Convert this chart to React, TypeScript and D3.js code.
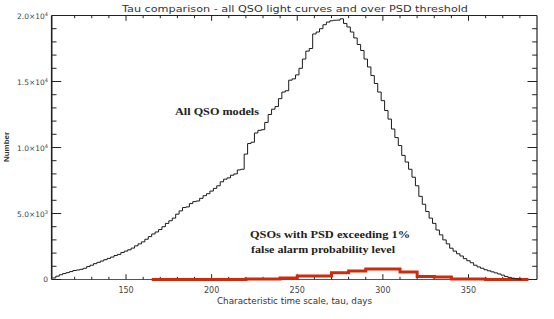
import React from "react";
import * as d3 from "d3";

// ---- data ----
const allBinStart = 107;
const allBinWidth = 2;
// counts per 2-day bin, bin centres 108 ... 380
const allCounts = [
  120, 250, 360, 450, 520, 600, 680, 720, 770, 850,
  980, 1080, 1200, 1300, 1400, 1500, 1600, 1700, 1820, 1900,
  2050, 2150, 2250, 2380, 2550, 2700, 2850, 3050, 3250, 3450,
  3600, 3780, 4000, 4250, 4450, 4650, 4950, 5200, 5450, 5500,
  5750, 5900, 5950, 6150, 6350, 6500, 6700, 6900, 7100, 7400,
  7600, 7700, 7900, 8000, 8300, 8350, 9500, 10300, 10400, 11100,
  11300, 11350, 11900, 12500, 12900, 13100, 13700, 14200, 14300, 15100,
  15200, 15500, 16000, 16700, 17300, 17500, 18600, 18750, 19000, 19300,
  19500, 19600, 19640, 19650, 19750, 19400, 19130, 18750, 18300, 17800,
  17350, 16700, 16100, 15450, 14850, 14200, 13550, 12800, 12150, 11400,
  10750, 10150, 9400, 8900, 8350, 7750, 7100, 6300, 5700, 5150,
  4650, 4250, 3750, 3380, 3000, 2700, 2370, 2150, 1950, 1780,
  1580, 1420, 1270, 1080, 950, 850, 740, 660, 580, 500,
  420, 330, 230, 160, 100, 60, 30,
];

const psdEdges = [165, 170, 180, 190, 200, 210, 220, 230, 240, 250, 260, 270, 280, 290, 300, 310, 320, 330, 340, 350, 360, 370, 380, 385];
const psdCounts = [0, 0, 0, 0, 0, 0, 40, 40, 110, 260, 260, 510, 650, 790, 800, 560, 230, 180, 45, 45, 0, 0, 0];

const xMajorTicks = [150, 200, 250, 300, 350];
const xMinorTicks = [120, 130, 140, 160, 170, 180, 190, 210, 220, 230, 240, 260, 270, 280, 290, 310, 320, 330, 340, 360, 370, 380];
const yMajorTicks = [0, 5000, 10000, 15000, 20000];
const yTickMantissa = ["0", "5.0×10", "1.0×10", "1.5×10", "2.0×10"];
const yTickExponent = ["", "3", "4", "4", "4"];
const yMinorTicks = [1000, 2000, 3000, 4000, 6000, 7000, 8000, 9000, 11000, 12000, 13000, 14000, 16000, 17000, 18000, 19000];

const titleText = "Tau comparison - all QSO light curves and over PSD threshold";
const xLabel = "Characteristic time scale, tau, days";
const yLabel = "Number";

export default function App() {
  const W = 554, H = 319;
  const L = 51.7, R = 537, T = 15.5, B = 279.5;
  const x = d3.scaleLinear().domain([106.6, 390]).range([L, R]);
  const y = d3.scaleLinear().domain([0, 20000]).range([B, T]);

  const allPts: [number, number][] = allCounts.map((v, i) => [allBinStart + i * allBinWidth, v]);
  allPts.push([allBinStart + allCounts.length * allBinWidth, allCounts[allCounts.length - 1]]);
  const psdPts: [number, number][] = psdCounts.map((v, i) => [psdEdges[i], v]);
  psdPts.push([psdEdges[psdEdges.length - 1], psdCounts[psdCounts.length - 1]]);

  const line = d3
    .line<[number, number]>()
    .x((d) => x(d[0]))
    .y((d) => y(d[1]))
    .curve(d3.curveStepAfter);

  const tickFont = "'DejaVu Sans', sans-serif";
  const axisColor = "#222";
  const xMajLen = 5.3, xMinLen = 2.7, yMajLen = 9.5, yMinLen = 4.8;

  return (
    <svg width={W} height={H} style={{ position: "absolute", left: 0, top: 0, background: "#fff" }}>
      <rect x={0} y={0} width={W} height={H} fill="#fff" />
      {/* title */}
      <text x={122} y={11.5} fontFamily={tickFont} fontSize={9} fill="#333" textLength={346} lengthAdjust="spacingAndGlyphs">
        {titleText}
      </text>

      {/* axes box */}
      <g stroke={axisColor} strokeWidth={1} fill="none">
        <line x1={L} y1={T} x2={R} y2={T} />
        <line x1={L} y1={B} x2={R} y2={B} stroke="#555" />
        <line x1={L} y1={T} x2={L} y2={B} strokeWidth={1.6} />
        <line x1={R} y1={T} x2={R} y2={B} strokeWidth={1.4} stroke="#444" />
        {xMajorTicks.map((t) => (
          <g key={"xM" + t}>
            <line x1={x(t)} x2={x(t)} y1={B} y2={B - xMajLen} />
            <line x1={x(t)} x2={x(t)} y1={T} y2={T + xMajLen} />
          </g>
        ))}
        {xMinorTicks.map((t) => (
          <g key={"xm" + t}>
            <line x1={x(t)} x2={x(t)} y1={B} y2={B - xMinLen} />
            <line x1={x(t)} x2={x(t)} y1={T} y2={T + xMinLen} />
          </g>
        ))}
        {yMajorTicks.map((v) => (
          <g key={"yM" + v}>
            <line x1={L} x2={L + yMajLen} y1={y(v)} y2={y(v)} />
            <line x1={R} x2={R - yMajLen} y1={y(v)} y2={y(v)} />
          </g>
        ))}
        {yMinorTicks.map((v) => (
          <g key={"ym" + v}>
            <line x1={L} x2={L + yMinLen} y1={y(v)} y2={y(v)} />
            <line x1={R} x2={R - yMinLen} y1={y(v)} y2={y(v)} />
          </g>
        ))}
      </g>

      {/* tick labels */}
      {xMajorTicks.map((t) => (
        <text key={"xl" + t} x={x(t)} y={293} textAnchor="middle" fontFamily={tickFont} fontSize={8} fill="#444">
          {t}
        </text>
      ))}
      {yMajorTicks.map((v, i) =>
        v === 0 ? (
          <text key={"yl" + v} x={48} y={y(v) + 2} textAnchor="end" fontFamily={tickFont} fontSize={7.5} fill="#444">
            0
          </text>
        ) : (
          <text key={"yl" + v} x={48} y={y(v) + 3.5} textAnchor="end" fontFamily={tickFont} fontSize={7.5} fill="#444">
            {yTickMantissa[i]}
            <tspan fontSize={5} dy={-3.5}>{yTickExponent[i]}</tspan>
          </text>
        )
      )}

      {/* axis labels */}
      <text x={217} y={304} fontFamily={tickFont} fontSize={8} fill="#333" textLength={155} lengthAdjust="spacingAndGlyphs">
        {xLabel}
      </text>
      <text
        transform="translate(8.5,147) rotate(-90)"
        textAnchor="middle"
        fontFamily="'Liberation Sans', sans-serif"
        fontWeight="bold"
        fontSize={7}
        fill="#333"
        textLength={30}
        lengthAdjust="spacingAndGlyphs"
      >
        {yLabel}
      </text>

      {/* histograms */}
      <path d={line(psdPts) || ""} fill="none" stroke="#d02a0c" strokeWidth={3} />
      <path d={line(allPts) || ""} fill="none" stroke="#1a1a1a" strokeWidth={1} />

      {/* annotations */}
      <text x={175} y={114.5} fontFamily="'Liberation Serif', serif" fontWeight="bold" fontSize={10} fill="#222" textLength={84} lengthAdjust="spacingAndGlyphs">
        All QSO models
      </text>
      <text x={250} y={238} fontFamily="'Liberation Serif', serif" fontWeight="bold" fontSize={10} fill="#222" textLength={160} lengthAdjust="spacingAndGlyphs">
        QSOs with PSD exceeding 1%
      </text>
      <text x={251} y={253} fontFamily="'Liberation Serif', serif" fontWeight="bold" fontSize={10} fill="#222" textLength={144} lengthAdjust="spacingAndGlyphs">
        false alarm probability level
      </text>
    </svg>
  );
}
